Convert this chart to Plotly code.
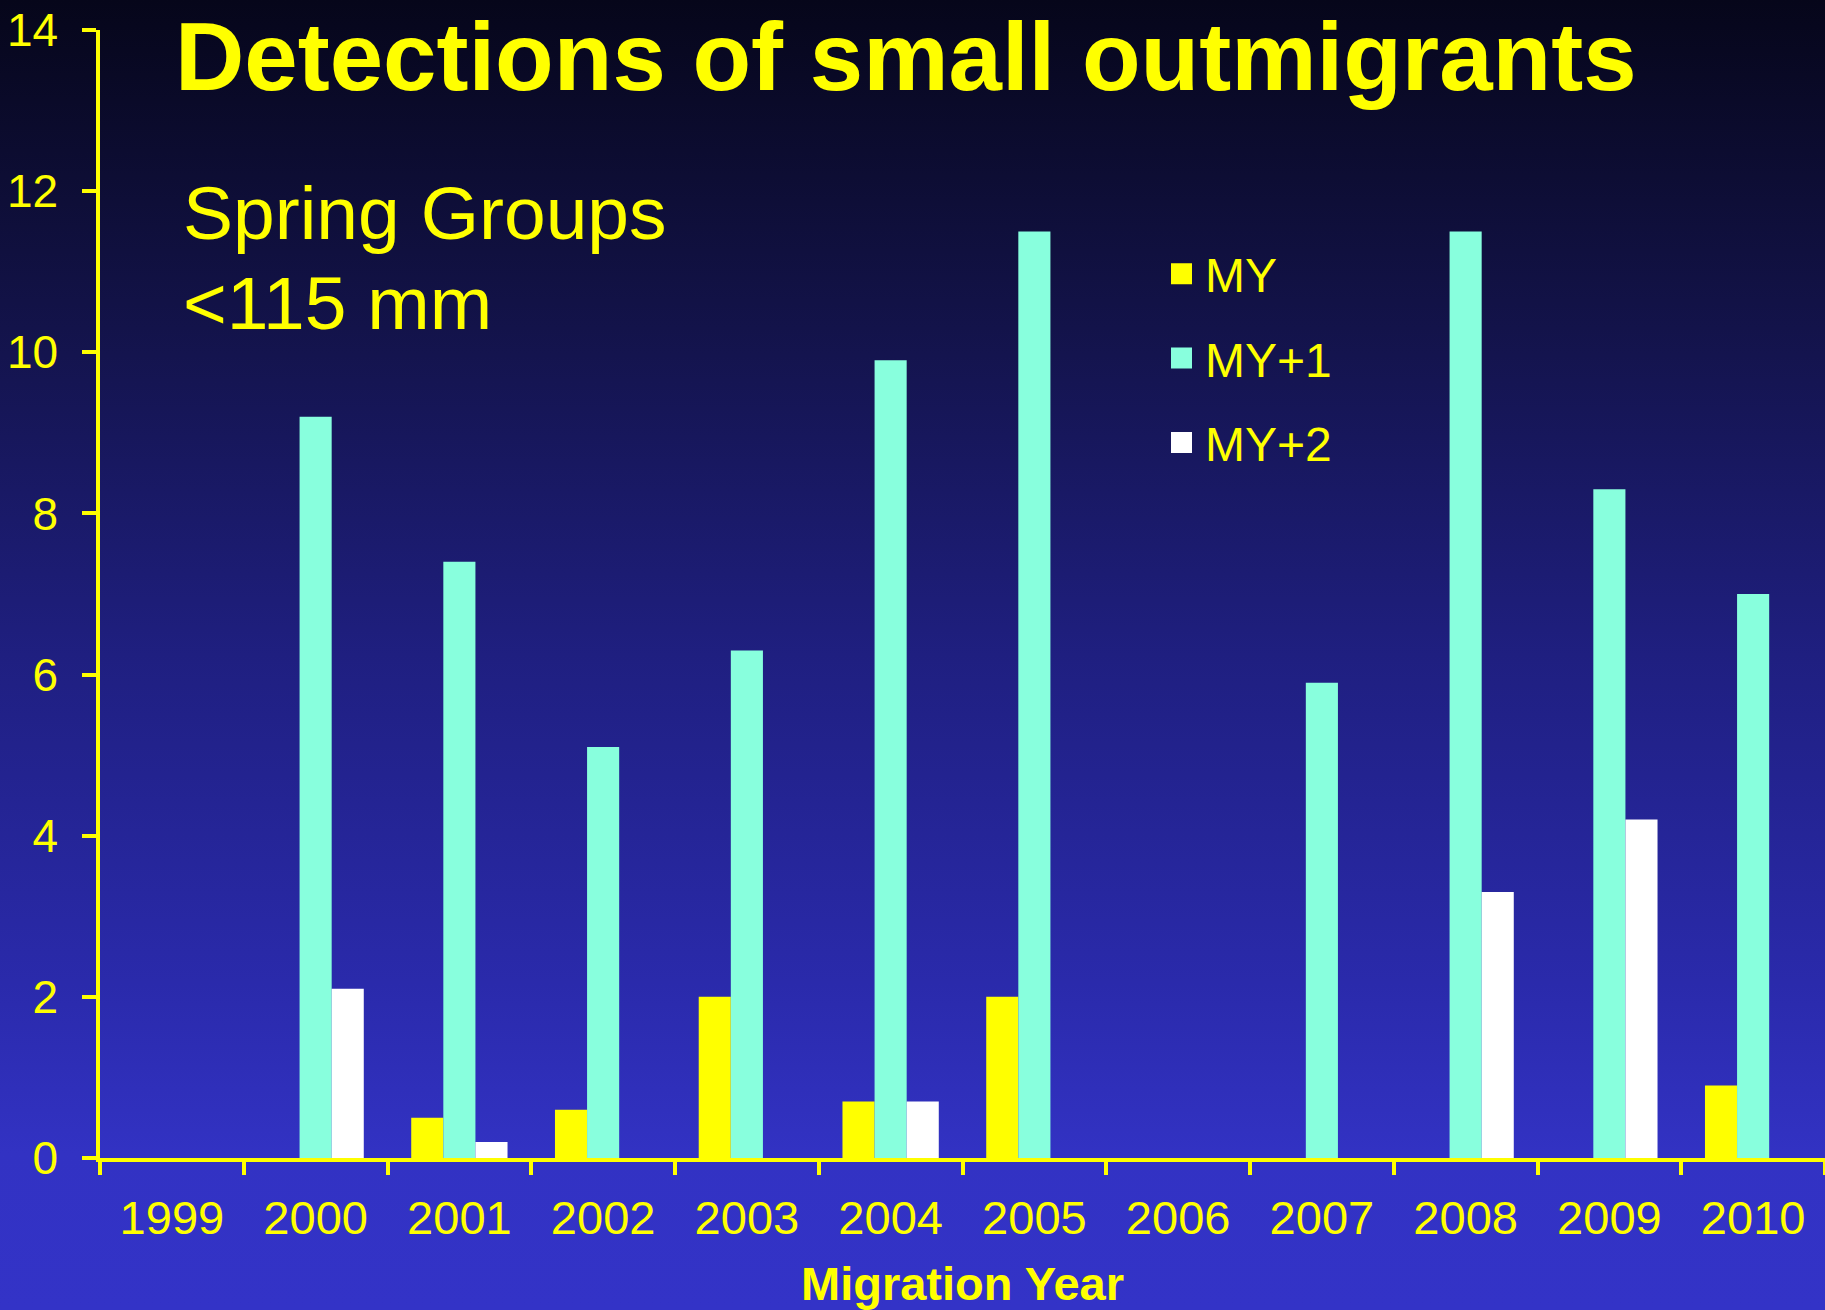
import base64
import plotly.graph_objects as go

# ---------------- data ----------------
years = ["1999", "2000", "2001", "2002", "2003", "2004", "2005",
         "2006", "2007", "2008", "2009", "2010"]
my_vals = [None, None, 0.5, 0.6, 2.0, 0.7, 2.0, None, None, None, None, 0.9]
my1_vals = [None, 9.2, 7.4, 5.1, 6.3, 9.9, 11.5, None, 5.9, 11.5, 8.3, 7.0]
my2_vals = [None, 2.1, 0.2, None, None, 0.7, None, None, None, 3.3, 4.2, None]
series_names = ["MY", "MY+1", "MY+2"]
y_ticks = [0, 2, 4, 6, 8, 10, 12, 14]

# ---------------- style ----------------
W, H = 1825, 1310
ML, MR, MT, MB = 100, 0, 30, 152
YEL = "#FFFF00"
CYAN = "#88FFDD"
WHITE = "#FFFFFF"
colors = [YEL, CYAN, WHITE]
FONT = "Liberation Sans, Arial, Helvetica, sans-serif"

PW = W - ML - MR
PH = H - MT - MB


def px_x(px):
    return (px - ML) / PW


def px_y(py):
    return (H - MB - py) / PH


# gradient background as inline svg
svg = (
    '<svg xmlns="http://www.w3.org/2000/svg" width="100" height="1310" '
    'viewBox="0 0 100 1310" preserveAspectRatio="none">'
    '<defs><linearGradient id="g" x1="0" y1="0" x2="0" y2="1">'
    '<stop offset="0" stop-color="#06061a"/>'
    '<stop offset="0.25" stop-color="#13134a"/>'
    '<stop offset="0.5" stop-color="#1f1f80"/>'
    '<stop offset="0.75" stop-color="#2a2aab"/>'
    '<stop offset="0.88" stop-color="#3232c3"/>'
    '<stop offset="1" stop-color="#3333c7"/>'
    '</linearGradient></defs>'
    '<rect x="0" y="0" width="100" height="1310" fill="url(#g)"/></svg>'
)
svg_uri = "data:image/svg+xml;base64," + base64.b64encode(svg.encode()).decode()

fig = go.Figure()
for name, vals, col in zip(series_names, [my_vals, my1_vals, my2_vals], colors):
    fig.add_trace(go.Bar(
        x=years, y=vals, name=name, marker_color=col,
        marker_line_width=0, showlegend=False,
    ))
# legend entries (larger square swatches)
for i, (name, col) in enumerate(zip(series_names, colors)):
    fig.add_trace(go.Scatter(
        x=[None], y=[None], mode="markers", name=name,
        legendgroup=f"g{i}",
        marker=dict(symbol="square", size=16, color=col,
                    line=dict(width=5, color=col)),
    ))

fig.update_layout(
    width=W, height=H,
    margin=dict(l=ML, r=MR, t=MT, b=MB, pad=0),
    paper_bgcolor="#3333c7",
    plot_bgcolor="rgba(0,0,0,0)",
    barmode="group", bargap=0.33, bargroupgap=0,
    font=dict(family=FONT, color=YEL),
    images=[dict(
        source=svg_uri, xref="paper", yref="paper",
        x=px_x(-6), y=px_y(0), sizex=(W + 12) / PW, sizey=H / PH,
        xanchor="left", yanchor="top", sizing="stretch", layer="below",
    )],
    legend=dict(
        x=px_x(1158), y=px_y(236), xanchor="left", yanchor="top",
        bgcolor="rgba(0,0,0,0)", font=dict(size=48, color=YEL, family=FONT),
        traceorder="grouped", tracegroupgap=19, itemwidth=37,
    ),
    xaxis=dict(
        type="category", range=[-0.5, 11.5],
        showline=True, linecolor=YEL, linewidth=3.5,
        ticks="outside", tickson="boundaries", ticklen=13, tickwidth=3.5,
        tickcolor=YEL, showgrid=False, zeroline=False,
        tickfont=dict(size=47, color=YEL, family=FONT),
        ticklabelstandoff=16,
        title=dict(text="<b>Migration Year</b>",
                   font=dict(size=47, color=YEL, family=FONT), standoff=26),
    ),
    yaxis=dict(
        range=[0, 14], tickvals=y_ticks,
        showline=True, linecolor=YEL, linewidth=3.5,
        ticks="outside", ticklen=14, tickwidth=3.5, tickcolor=YEL,
        showgrid=False, zeroline=False,
        tickfont=dict(size=46, color=YEL, family=FONT),
        ticklabelstandoff=15,
    ),
    annotations=[
        dict(text="<b>Detections of small outmigrants</b>",
             xref="paper", yref="paper", x=px_x(173), y=px_y(57),
             xanchor="left", yanchor="middle", showarrow=False,
             font=dict(size=96, color=YEL, family=FONT)),
        dict(text="Spring Groups",
             xref="paper", yref="paper", x=px_x(181), y=px_y(213),
             xanchor="left", yanchor="middle", showarrow=False,
             font=dict(size=75, color=YEL, family=FONT)),
        dict(text="<115 mm",
             xref="paper", yref="paper", x=px_x(181), y=px_y(303),
             xanchor="left", yanchor="middle", showarrow=False,
             font=dict(size=75, color=YEL, family=FONT)),
    ],
)

fig.write_html("out.html", config={"displayModeBar": False},
               post_script="document.body.style.margin='0';document.body.style.overflow='hidden';")
